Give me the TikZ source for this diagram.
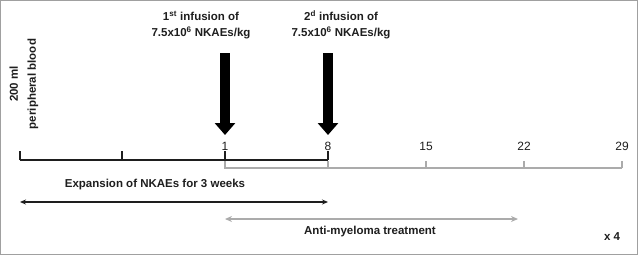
\documentclass[tikz,border=0pt]{standalone}
\usepackage{fontspec}
\setmainfont{Liberation Sans}
\usetikzlibrary{arrows.meta}
\definecolor{lineblack}{HTML}{1E1E1E}
\definecolor{linegray}{HTML}{ABABAB}
\definecolor{framegray}{HTML}{A0A0A0}
\begin{document}
\begin{tikzpicture}[x=1pt,y=-1pt,
  lbl/.style={inner sep=0pt,font=\fontsize{11.5}{16}\selectfont\bfseries,align=center,text=lineblack},
  num/.style={inner sep=0pt,anchor=base,font=\fontsize{12}{14}\selectfont,text=lineblack},
  blk/.style={draw=lineblack,line width=1.1pt},
  gry/.style={draw=linegray,line width=1.5pt},
  bigarrow/.style={draw=black,line width=9.5pt,-{Triangle[width=20pt,length=12pt]}}]
\useasboundingbox (0,0) rectangle (638,255);
\draw[framegray,line width=1pt] (0.5,0.5) rectangle (637.5,254.5);
% coordinates
\coordinate (t0) at (20,160);
\coordinate (t1) at (122,160);
\coordinate (t2) at (225,160);
\coordinate (t3) at (328,160);
\coordinate (g2) at (225,168);
\coordinate (g3) at (328,168);
\coordinate (g4) at (426,168);
\coordinate (g5) at (524,168);
\coordinate (g6) at (622,168);
% gray timeline
\draw[gry] (t2) -- (g2) -- (g6);
\foreach \g in {g3,g4,g5,g6} \draw[gry] (\g) -- ++(0,-7.5);
% black timeline
\draw[blk] (t0) -- (t3);
\foreach \t in {t0,t1,t2,t3} \draw[blk] (\t) -- ++(0,-9);
% numbers
\node[num] (n1) at (225,150) {1};
\node[num] (n8) at (328,150) {8};
\node[num] (n15) at (426,150) {15};
\node[num] (n22) at (524,150) {22};
\node[num] (n29) at (622,150) {29};
% infusion arrows
\coordinate (a1s) at (225,53);
\coordinate (a1e) at (225,135);
\coordinate (a2s) at (328,53);
\coordinate (a2e) at (328,135);
\draw[bigarrow] (a1s) -- (a1e);
\draw[bigarrow] (a2s) -- (a2e);
\node[lbl] (inf1) at (201,25) {1\textsuperscript{st} infusion of\\7.5x10\textsuperscript{6} NKAEs/kg};
\node[lbl] (inf2) at (341,25) {2\textsuperscript{d} infusion of\\7.5x10\textsuperscript{6} NKAEs/kg};
% blood
\node[lbl,rotate=90,font=\fontsize{11.5}{18}\selectfont\bfseries] (blood) at (24,84) {200 ml\\peripheral blood};
% expansion
\node[lbl] (exp) at (155,185) {Expansion of NKAEs for 3 weeks};
\coordinate (e0) at (20,202);
\coordinate (e1) at (328,202);
\draw[draw=lineblack,line width=1.1pt,{Stealth[length=6pt,width=5pt]}-{Stealth[length=6pt,width=5pt]}] (e0) -- (e1);
% treatment
\coordinate (r0) at (225,219);
\coordinate (r1) at (518,219);
\draw[draw=linegray,line width=1.6pt,{Stealth[length=7pt,width=6pt]}-{Stealth[length=7pt,width=6pt]}] (r0) -- (r1);
\node[lbl] (anti) at (370,232) {Anti-myeloma treatment};
\node[lbl] (x4) at (612,237) {x 4};
\end{tikzpicture}
\end{document}
